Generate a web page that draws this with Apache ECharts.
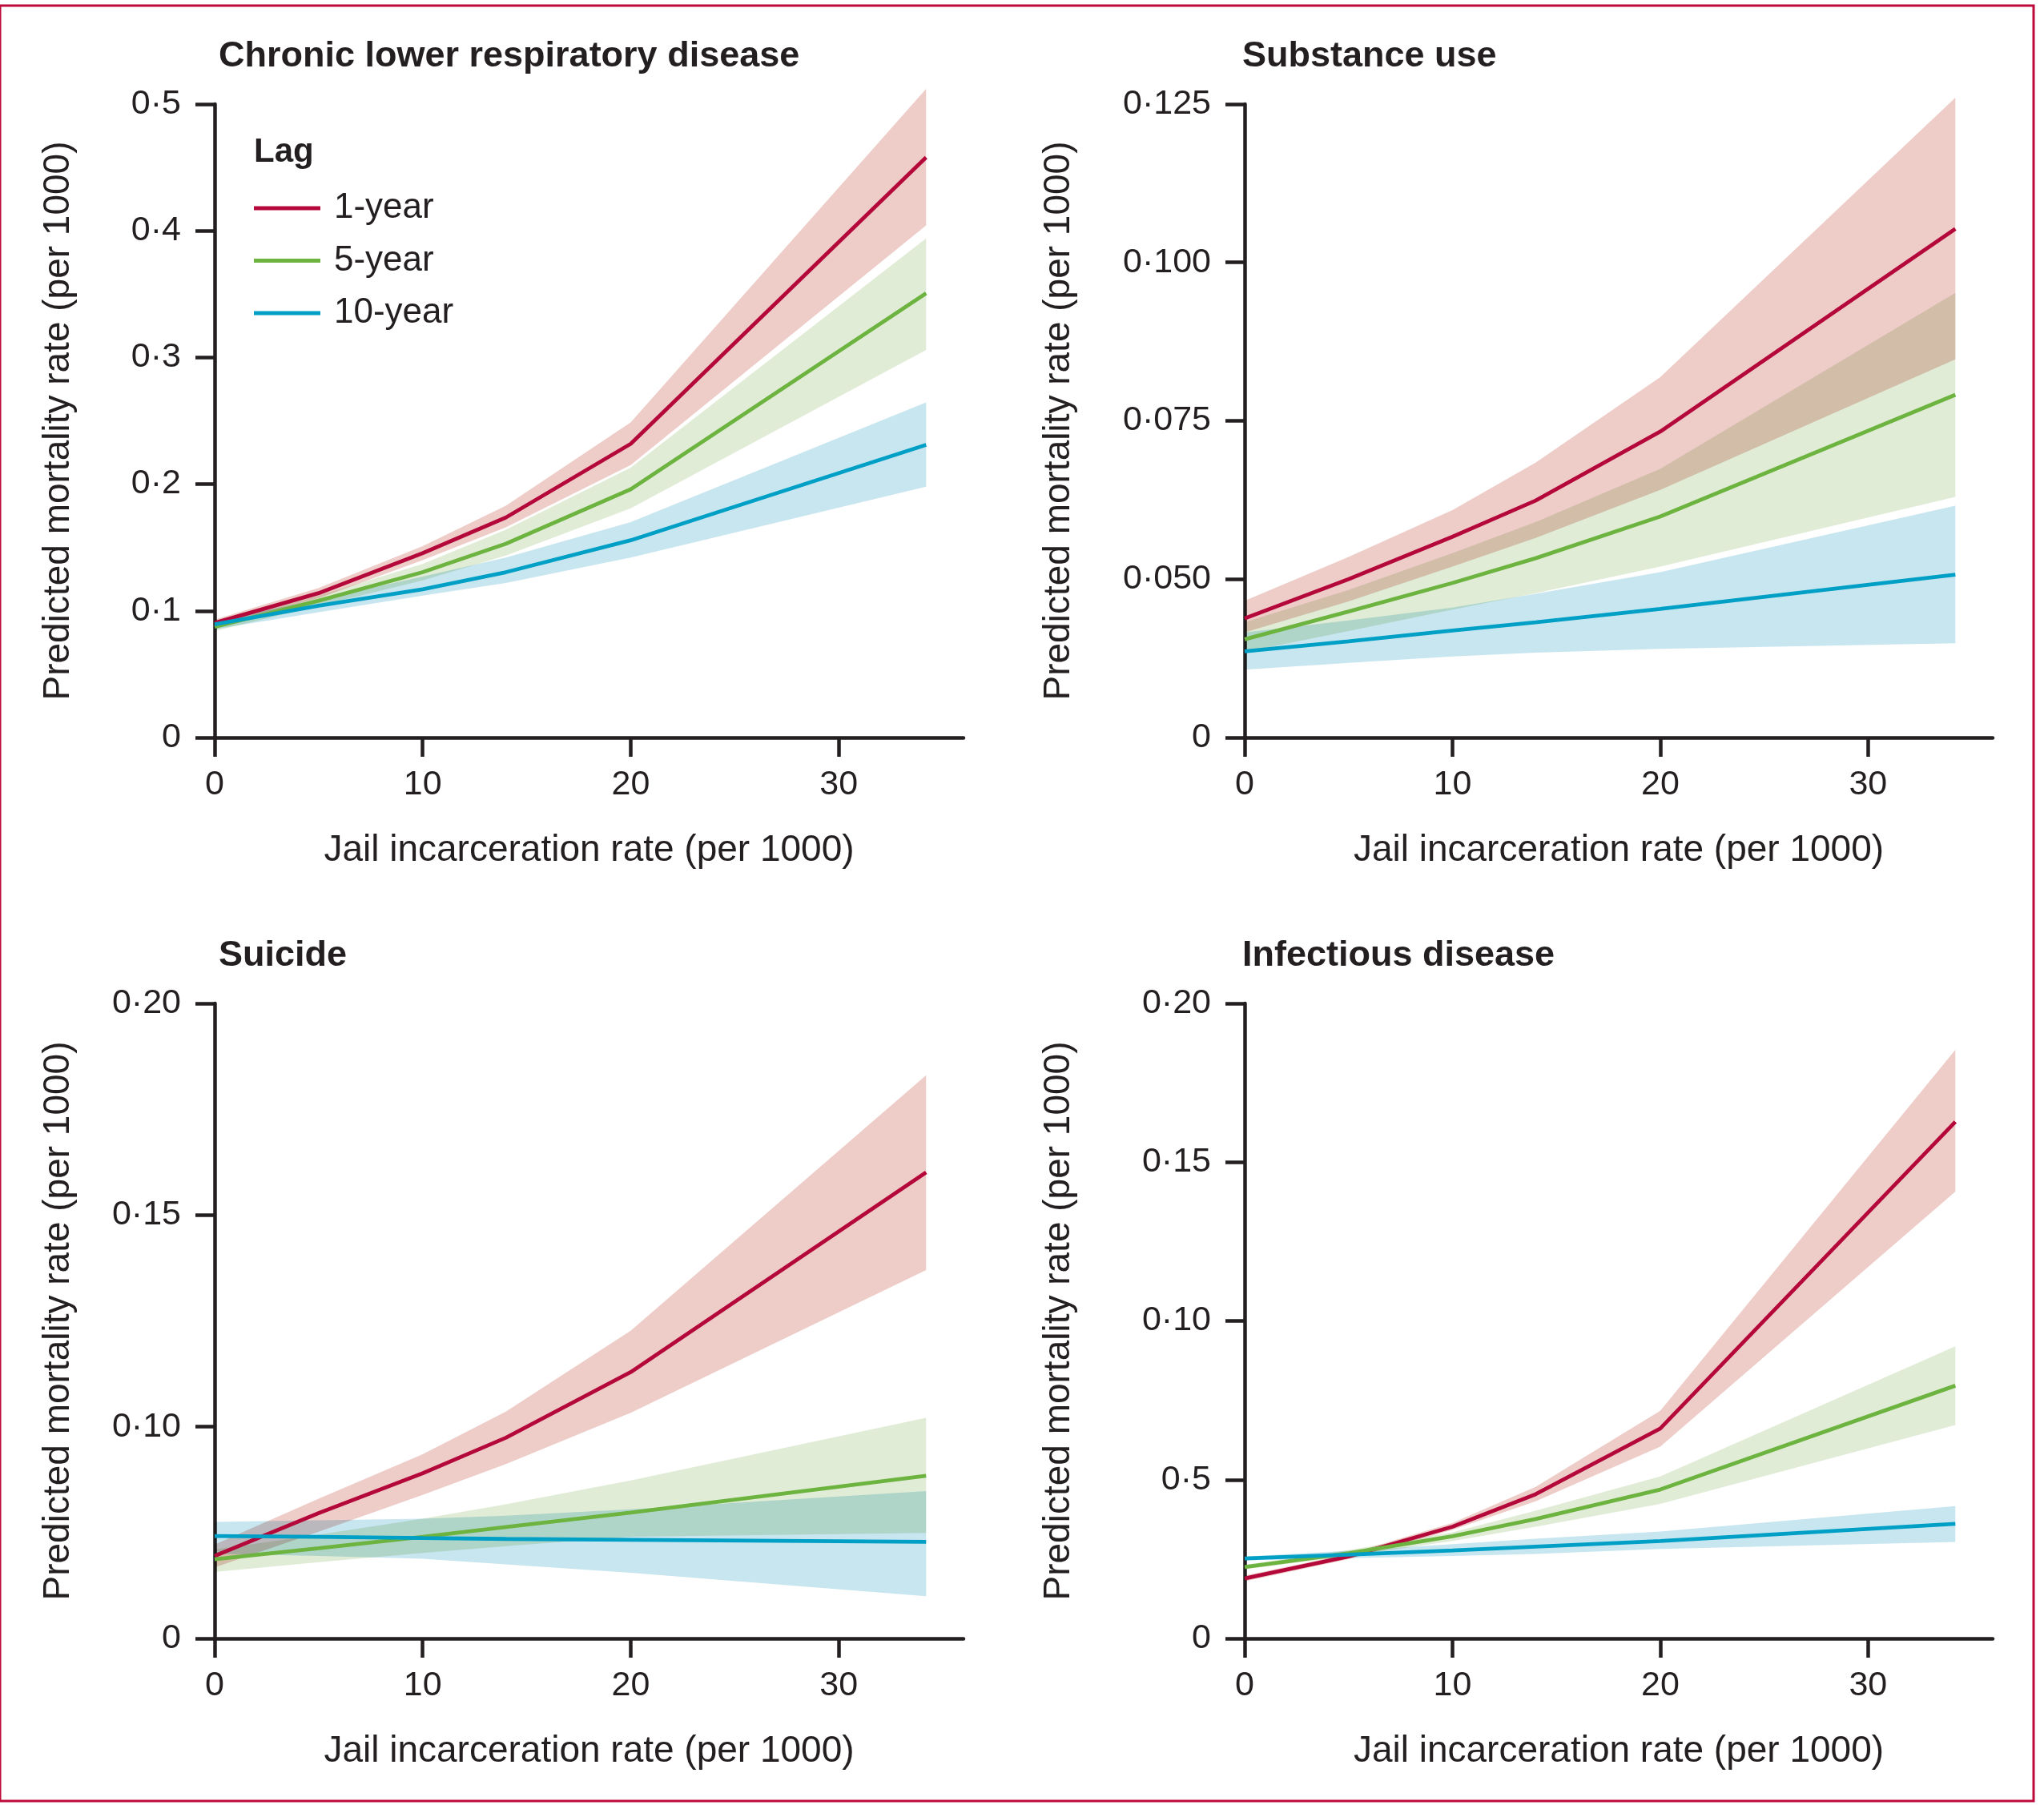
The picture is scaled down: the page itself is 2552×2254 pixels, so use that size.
<!DOCTYPE html>
<html>
<head>
<meta charset="utf-8">
<script src="https://cdn.jsdelivr.net/npm/echarts@6/dist/echarts.min.js"></script>
<style>
html,body{margin:0;padding:0;background:#fff;}
#chart{width:2552px;height:2254px;}
</style>
</head>
<body>
<div id="chart"></div>
<script>
// ---------------- DATA ----------------
const xValues = [0, 5, 10, 14, 20, 34.2];
const xTicks = [0, 10, 20, 30];
const lagNames = ['1-year', '5-year', '10-year'];
const panelTitles = ['Chronic lower respiratory disease', 'Substance use', 'Suicide', 'Infectious disease'];
const xAxisName = 'Jail incarceration rate (per 1000)';
const yAxisName = 'Predicted mortality rate (per 1000)';

// Chronic lower respiratory disease
const clrd1yr   = [0.0905, 0.114, 0.1455, 0.1737, 0.2318, 0.458];
const clrd1yrLo = [0.088, 0.110, 0.140, 0.166, 0.215, 0.4043];
const clrd1yrHi = [0.093, 0.118, 0.151, 0.183, 0.2487, 0.512];
const clrd5yr   = [0.0874, 0.108, 0.1305, 0.153, 0.196, 0.3507];
const clrd5yrLo = [0.084, 0.104, 0.124, 0.1437, 0.181, 0.306];
const clrd5yrHi = [0.090, 0.112, 0.137, 0.164, 0.213, 0.394];
const clrd10yr   = [0.0893, 0.104, 0.117, 0.1305, 0.1557, 0.231];
const clrd10yrLo = [0.0855, 0.099, 0.112, 0.122, 0.142, 0.198];
const clrd10yrHi = [0.092, 0.109, 0.127, 0.142, 0.170, 0.2645];
const clrdYTickValues = [0, 0.1, 0.2, 0.3, 0.4, 0.5];
const clrdYTickLabels = ['0', '0·1', '0·2', '0·3', '0·4', '0·5'];

// Substance use
const sub1yr   = [0.0438, 0.0500, 0.0567, 0.0624, 0.0733, 0.1053];
const sub1yrLo = [0.0416, 0.0465, 0.052, 0.0565, 0.0641, 0.0847];
const sub1yrHi = [0.0466, 0.0535, 0.0609, 0.0684, 0.0819, 0.1260];
const sub5yr   = [0.0405, 0.0449, 0.0494, 0.0533, 0.0599, 0.0791];
const sub5yrLo = [0.0385, 0.0418, 0.0452, 0.0478, 0.052, 0.063];
const sub5yrHi = [0.0432, 0.0483, 0.0541, 0.059, 0.0674, 0.0952];
const sub10yr   = [0.0386, 0.0402, 0.0419, 0.0432, 0.0453, 0.0507];
const sub10yrLo = [0.0357, 0.0368, 0.0378, 0.0384, 0.039, 0.0399];
const sub10yrHi = [0.0416, 0.0435, 0.0455, 0.0477, 0.0511, 0.0616];
const subYTickValues = [0.025, 0.05, 0.075, 0.1, 0.125];
const subYTickLabels = ['0', '0·050', '0·075', '0·100', '0·125'];

// Suicide
const sui1yr   = [0.0695, 0.0796, 0.089, 0.0974, 0.1129, 0.1601];
const sui1yrLo = [0.0668, 0.0752, 0.0839, 0.0912, 0.1033, 0.137];
const sui1yrHi = [0.0722, 0.083, 0.0935, 0.1036, 0.1227, 0.183];
const sui5yr   = [0.0687, 0.0713, 0.074, 0.0763, 0.0797, 0.0884];
const sui5yrLo = [0.0657, 0.068, 0.0702, 0.0718, 0.0740, 0.0749];
const sui5yrHi = [0.071, 0.0745, 0.0783, 0.0817, 0.0873, 0.1021];
const sui10yr   = [0.0742, 0.074, 0.0737, 0.0735, 0.0733, 0.0728];
const sui10yrLo = [0.0700, 0.0695, 0.0688, 0.0675, 0.0655, 0.060];
const sui10yrHi = [0.0775, 0.0779, 0.0783, 0.079, 0.0805, 0.0848];
const suiYTickValues = [0.05, 0.10, 0.15, 0.20];
const suiYTickLabels = ['0', '0·10', '0·15', '0·20'];

// Infectious disease
const inf1yr   = [0.0189, 0.0258, 0.0352, 0.0454, 0.0661, 0.1627];
const inf1yrLo = [0.0180, 0.0250, 0.0342, 0.0432, 0.0604, 0.1407];
const inf1yrHi = [0.0198, 0.0266, 0.0364, 0.0477, 0.0717, 0.1854];
const inf5yr   = [0.0225, 0.0268, 0.0322, 0.0376, 0.0469, 0.0796];
const inf5yrLo = [0.0218, 0.0259, 0.0307, 0.0352, 0.0424, 0.0672];
const inf5yrHi = [0.0232, 0.0278, 0.0334, 0.0402, 0.051, 0.092];
const inf10yr   = [0.0252, 0.0264, 0.0277, 0.0289, 0.0307, 0.0361];
const inf10yrLo = [0.0246, 0.0253, 0.026, 0.0266, 0.0282, 0.0304];
const inf10yrHi = [0.0258, 0.0276, 0.0297, 0.0314, 0.0337, 0.0417];
const infYTickValues = [0, 0.05, 0.10, 0.15, 0.20];
const infYTickLabels = ['0', '0·5', '0·10', '0·15', '0·20'];

// ---------------- STYLE / LAYOUT ----------------
const FONT = '"Liberation Sans", Arial, sans-serif';
const INK = '#231F20';
const lineColors = ['#B5083A', '#6DB33F', '#00A0C6'];
const bandColors = ['#EECCC8', '#E0ECD6', '#C8E6F0'];

const panels = [
  {grid: {left: 268, top: 130, width: 935, height: 791}, yMin: 0, yMax: 0.5,
   tv: clrdYTickValues, tl: clrdYTickLabels, nameGap: 172,
   lines: [clrd1yr, clrd5yr, clrd10yr], lo: [clrd1yrLo, clrd5yrLo, clrd10yrLo], hi: [clrd1yrHi, clrd5yrHi, clrd10yrHi],
   title: {left: 273, top: 48}},
  {grid: {left: 1554, top: 130, width: 934, height: 791}, yMin: 0.025, yMax: 0.125,
   tv: subYTickValues, tl: subYTickLabels, nameGap: 209,
   lines: [sub1yr, sub5yr, sub10yr], lo: [sub1yrLo, sub5yrLo, sub10yrLo], hi: [sub1yrHi, sub5yrHi, sub10yrHi],
   title: {left: 1551, top: 48}},
  {grid: {left: 268, top: 1253, width: 935, height: 793}, yMin: 0.05, yMax: 0.20,
   tv: suiYTickValues, tl: suiYTickLabels, nameGap: 172,
   lines: [sui1yr, sui5yr, sui10yr], lo: [sui1yrLo, sui5yrLo, sui10yrLo], hi: [sui1yrHi, sui5yrHi, sui10yrHi],
   title: {left: 273, top: 1171}},
  {grid: {left: 1554, top: 1253, width: 934, height: 793}, yMin: 0, yMax: 0.20,
   tv: infYTickValues, tl: infYTickLabels, nameGap: 209,
   lines: [inf1yr, inf5yr, inf10yr], lo: [inf1yrLo, inf5yrLo, inf10yrLo], hi: [inf1yrHi, inf5yrHi, inf10yrHi],
   title: {left: 1551, top: 1171}}
];

function lookupLabel(vals, labels, v) {
  for (let i = 0; i < vals.length; i++) if (Math.abs(vals[i] - v) < 1e-9) return labels[i];
  return '';
}

function bandSeries(gi, lo, hi, color) {
  return {
    type: 'custom', xAxisIndex: gi, yAxisIndex: gi, coordinateSystem: 'cartesian2d',
    clip: false, silent: true, z: 1, animation: false, blendMode: 'multiply',
    data: xValues.map((x, i) => [x, lo[i], hi[i]]),
    encode: {x: 0, y: [1, 2]},
    renderItem: function (params, api) {
      if (params.dataIndex !== 0) return null;
      const pts = [];
      for (let i = 0; i < xValues.length; i++) pts.push(api.coord([xValues[i], hi[i]]));
      for (let i = xValues.length - 1; i >= 0; i--) pts.push(api.coord([xValues[i], lo[i]]));
      return {type: 'polygon', shape: {points: pts}, style: {fill: color}};
    }
  };
}

const grids = [], xAxes = [], yAxes = [], series = [], titles = [];
panels.forEach((p, gi) => {
  grids.push(Object.assign({containLabel: false}, p.grid));
  xAxes.push({
    type: 'value', gridIndex: gi, min: 0, max: 36,
    axisLine: {onZero: false, lineStyle: {color: INK, width: 4.5}},
    axisTick: {show: true, length: 24, lineStyle: {color: INK, width: 4.5}, customValues: xTicks},
    axisLabel: {customValues: xTicks, margin: 38, fontSize: 43, color: INK, fontFamily: FONT,
                formatter: v => String(v)},
    splitLine: {show: false},
    name: xAxisName, nameLocation: 'middle', nameGap: 118,
    nameTextStyle: {fontSize: 46, color: INK, fontFamily: FONT}
  });
  yAxes.push({
    type: 'value', gridIndex: gi, min: p.yMin, max: p.yMax,
    axisLine: {onZero: false, lineStyle: {color: INK, width: 4.5}},
    axisTick: {show: true, length: 24, lineStyle: {color: INK, width: 4.5}, customValues: p.tv},
    axisLabel: {customValues: p.tv, margin: 42, fontSize: 43, color: INK, fontFamily: FONT,
                formatter: v => lookupLabel(p.tv, p.tl, v)},
    splitLine: {show: false},
    name: yAxisName, nameLocation: 'middle', nameGap: p.nameGap, nameRotate: 90,
    nameTextStyle: {fontSize: 46, color: INK, fontFamily: FONT}
  });
  for (let k = 0; k < 3; k++) series.push(bandSeries(gi, p.lo[k], p.hi[k], bandColors[k]));
  for (let k = 0; k < 3; k++) {
    series.push({
      type: 'line', name: lagNames[k], xAxisIndex: gi, yAxisIndex: gi,
      data: xValues.map((x, i) => [x, p.lines[k][i]]),
      symbol: 'none', smooth: false, z: 3, animation: false,
      lineStyle: {width: 4.8, color: lineColors[k]},
      itemStyle: {color: lineColors[k]}
    });
  }
  titles.push({text: panelTitles[gi], left: p.title.left, top: p.title.top, padding: 0,
    textStyle: {fontSize: 45, fontWeight: 'bold', color: INK, fontFamily: FONT, lineHeight: 45}});
});
titles.push({text: 'Lag', left: 317, top: 169, padding: 0,
  textStyle: {fontSize: 42, fontWeight: 'bold', color: INK, fontFamily: FONT, lineHeight: 42}});

const option = {
  backgroundColor: '#ffffff',
  animation: false,
  title: titles,
  grid: grids,
  xAxis: xAxes,
  yAxis: yAxes,
  legend: {
    data: lagNames, orient: 'vertical', left: 317, top: 235, padding: 0,
    icon: 'rect', itemWidth: 83, itemHeight: 5, itemGap: 15.5,
    textStyle: {fontSize: 44, color: INK, fontFamily: FONT, lineHeight: 50, padding: [0, 0, 0, 12]}
  },
  graphic: [{
    type: 'rect', silent: true, z: 100,
    shape: {x: 0, y: 7, width: 2539, height: 2242},
    style: {fill: 'none', stroke: '#BE0A3A', lineWidth: 3}
  }],
  series: series
};

const chart = echarts.init(document.getElementById('chart'), null, {renderer: 'canvas'});
chart.setOption(option);
</script>
</body>
</html>
